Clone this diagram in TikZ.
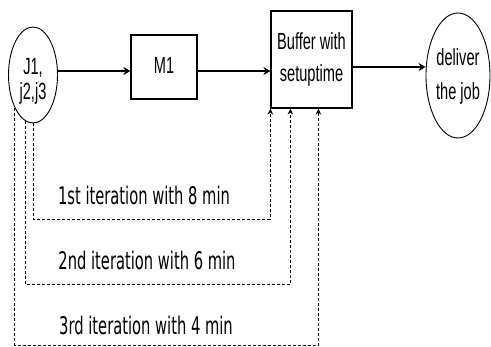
\documentclass[tikz,border=0pt]{standalone}
\usepackage{fontspec}
\setmainfont{Liberation Sans}
\newfontfamily\iterfont{DejaVu Sans}
\usepackage{graphicx}
\usetikzlibrary{shapes.geometric,arrows.meta}

% text in the reference is stretched upwards
\newcommand{\tall}[2][20pt]{\scalebox{1}[1.6]{\fontsize{14.6pt}{#1}\selectfont\begin{tabular}{@{}c@{}}#2\end{tabular}}}
\newcommand{\iterline}[1]{\scalebox{1}[1.65]{\fontsize{14.7pt}{18pt}\iterfont #1}}

\begin{document}
\begin{tikzpicture}[x=1pt,y=-1pt,
    >={Stealth[length=7pt,width=8pt]},
    box/.style={draw,line width=1.2pt,inner sep=0pt},
    job/.style={draw,ellipse,line width=0.9pt,inner sep=0pt},
    iter/.style={-{Stealth[length=6pt,width=5.5pt]},line width=0.8pt,dash pattern=on 3pt off 2pt}]
    \useasboundingbox (0,0) rectangle (491,347);
    \node[job,minimum width=49pt,minimum height=96pt,
      label={[yshift=-7pt]center:\tall[15.6pt]{J1,\\j2,j3}}] (jobs) at (33,75) {};
    \node[box,minimum width=66pt,minimum height=64pt] (m1) at (164,67) {\tall{M1}};
    \node[box,minimum width=81pt,minimum height=97pt] (buffer) at (311.5,59.5) {\tall{Buffer with\\setuptime}};
    \node[job,minimum width=64pt,minimum height=125pt] (deliver) at (458,75.5) {\tall[21pt]{deliver\\the job}};
    \coordinate (row1) at (0,71);
    \coordinate (row2) at (0,67);
    \draw[->,line width=1.3pt] (jobs.east |- row1) -- (m1.west |- row1);
    \draw[->,line width=1.3pt] (m1.east |- row1) -- (buffer.west |- row1);
    \draw[->,line width=1.3pt] (buffer.east |- row2) -- (deliver.west |- row2);
    % the three runs back to the buffer
    \coordinate (low1) at (0,219);
    \coordinate (low2) at (0,284);
    \coordinate (low3) at (0,345);
    \coordinate (in1) at (buffer.south west);
    \coordinate (in2) at ([xshift=20pt]buffer.south west);
    \coordinate (in3) at ([xshift=48pt]buffer.south west);
    \draw[iter] (jobs.south) |- (low1 -| in1) -- (in1);
    \draw[iter] (jobs.-100) |- (low2 -| in2) -- (in2);
    \draw[iter] (jobs.-119) |- (low3 -| in3) -- (in3);
    \node (it1) at (144,195) {\iterline{1st iteration with 8 min}};
    \node (it2) at (147,260) {\iterline{2nd iteration with 6 min}};
    \node (it3) at (146,325) {\iterline{3rd iteration with 4 min}};
  \end{tikzpicture}
\end{document}
